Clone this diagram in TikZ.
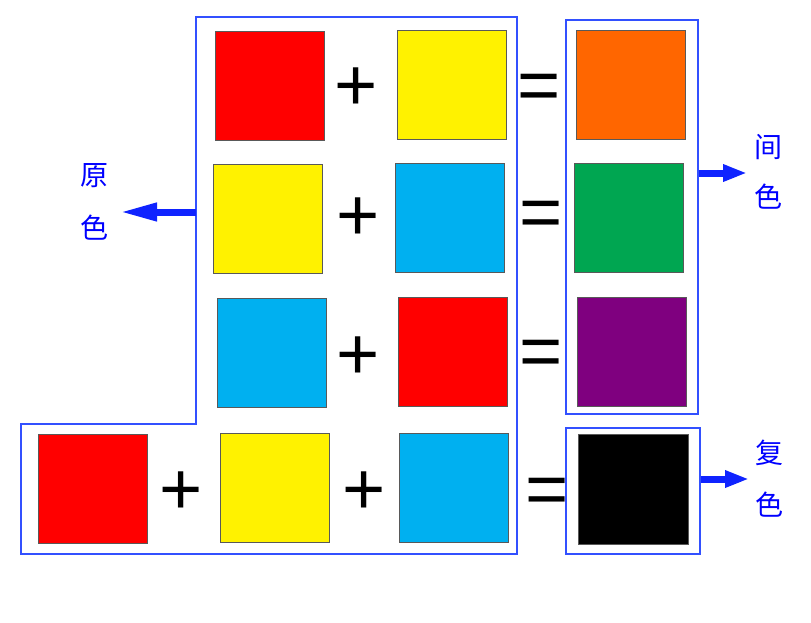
\documentclass[tikz,border=0pt]{standalone}
\usepackage{fontspec}
\setmainfont{Liberation Sans}
\newfontfamily\cjk{Noto Sans CJK SC}
\usetikzlibrary{arrows.meta}
\definecolor{cred}{RGB}{255,0,0}
\definecolor{cyel}{RGB}{255,242,0}
\definecolor{cblu}{RGB}{0,176,240}
\definecolor{corg}{RGB}{255,102,0}
\definecolor{cgrn}{RGB}{0,166,81}
\definecolor{cpur}{RGB}{127,0,127}
\definecolor{frameblue}{RGB}{50,80,255}
\definecolor{arrowblue}{RGB}{15,35,255}
\definecolor{txtblue}{RGB}{0,0,255}
\tikzset{
  sq/.style={draw=black!65, line width=0.8pt, minimum width=109pt, minimum height=109pt, inner sep=0pt},
  sym/.style={font=\fontsize{74}{74}\selectfont, inner sep=0pt, anchor=base},
  frame/.style={draw=frameblue, line width=1.3pt},
  fbox/.style={frame, inner sep=0pt},
  bigarrow/.style={arrowblue, line width=7pt},
  lbl/.style={text=txtblue, font=\cjk\fontsize{28}{28}\selectfont, inner sep=0pt},
}
\begin{document}
\begin{tikzpicture}[x=1pt,y=-1pt]
\useasboundingbox (0,0) rectangle (811,622);
% outline
\coordinate (oL) at (196,212);
\draw[frame] (196,17) -- (517,17) -- (517,554) -- (21,554) -- (21,424) -- (196,424) -- cycle;
\node[fbox, minimum width=132pt, minimum height=394pt] (box1) at (632,217) {};
\node[fbox, minimum width=134pt, minimum height=126pt] (box2) at (633,491) {};
% row 1
\node[sq, fill=cred] (r1a) at (269.5,85.5) {};
\node[sq, fill=cyel] (r1b) at (451.5,84.5) {};
\node[sq, fill=corg] (r1c) at (630.5,84.5) {};
% row 2
\node[sq, fill=cyel] (r2a) at (268,219) {};
\node[sq, fill=cblu] (r2b) at (449.5,218) {};
\node[sq, fill=cgrn] (r2c) at (628.5,218) {};
% row 3
\node[sq, fill=cblu] (r3a) at (271.5,352.5) {};
\node[sq, fill=cred] (r3b) at (452.5,351.5) {};
\node[sq, fill=cpur] (r3c) at (631.5,351.5) {};
% row 4
\node[sq, fill=cred] (r4a) at (92.5,489) {};
\node[sq, fill=cyel] (r4b) at (274.5,487.5) {};
\node[sq, fill=cblu] (r4c) at (453.5,487.5) {};
\node[sq, fill=black, minimum width=110pt, minimum height=110pt] (r4d) at (633,489) {};
% symbols
\node[sym] (p1) at (356,110) {+};
\node[sym] (e1) at (539,110) {=};
\node[sym] (p2) at (358,240) {+};
\node[sym] (e2) at (541,237) {=};
\node[sym] (p3) at (358,379) {+};
\node[sym] (e3) at (541,376) {=};
\node[sym] (p4) at (181,514) {+};
\node[sym] (p5) at (364,514) {+};
\node[sym] (e4) at (547,514) {=};
% arrows
\coordinate (lt) at (120,212);
\coordinate (rt1) at (747,173);
\coordinate (rt2) at (749,479);
\draw[bigarrow, -{Triangle[length=37pt,width=17pt]}] (oL) -- (lt);
\draw[bigarrow, -{Triangle[length=24pt,width=16pt]}] (box1.east |- rt1) -- (rt1);
\draw[bigarrow, -{Triangle[length=24pt,width=16pt]}] (box2.east |- rt2) -- (rt2);
% labels
\node[lbl] (t1) at (94,176) {原};
\node[lbl] (t2) at (94,228) {色};
\node[lbl] (t3) at (768,147) {间};
\node[lbl] (t4) at (768,197) {色};
\node[lbl] (t5) at (769,453) {复};
\node[lbl] (t6) at (769,505) {色};
\end{tikzpicture}
\end{document}
